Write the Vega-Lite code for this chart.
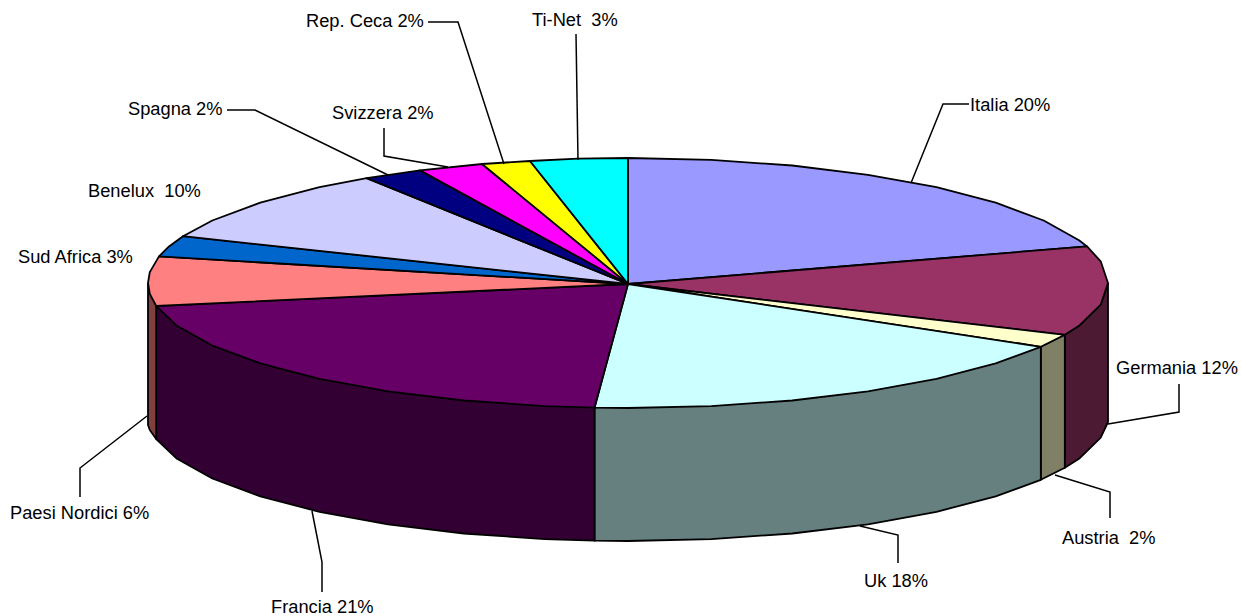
{"$schema":"https://vega.github.io/schema/vega-lite/v6.json","width":1241,"height":616,"padding":0,"autosize":"none","background":"white","config":{"view":{"stroke":null}},
"datasets":{"poly":[
{"p":"wGermania","i":1,"x":1108,"y":283},{"p":"wGermania","i":2,"x":1100.7,"y":304.7},{"p":"wGermania","i":3,"x":1079,"y":325.8},{"p":"wGermania","i":4,"x":1064.8,"y":334.8},{"p":"wGermania","i":5,"x":1064.8,"y":467.8},{"p":"wGermania","i":6,"x":1079,"y":458.8},{"p":"wGermania","i":7,"x":1100.7,"y":437.7},{"p":"wGermania","i":8,"x":1108,"y":422},{"p":"wGermania","i":9,"x":1108,"y":283},
{"p":"wAustria","i":1,"x":1064.8,"y":334.8},{"p":"wAustria","i":2,"x":1040.8,"y":346.8},{"p":"wAustria","i":3,"x":1040.8,"y":479.8},{"p":"wAustria","i":4,"x":1064.8,"y":467.8},{"p":"wAustria","i":5,"x":1064.8,"y":334.8},
{"p":"wUk","i":1,"x":1040.8,"y":346.8},{"p":"wUk","i":2,"x":594.5,"y":407.7},{"p":"wUk","i":3,"x":594.5,"y":540.7},{"p":"wUk","i":4,"x":628,"y":541},{"p":"wUk","i":5,"x":711.3,"y":539.1},{"p":"wUk","i":6,"x":792.2,"y":533.5},{"p":"wUk","i":7,"x":868,"y":524.3},{"p":"wUk","i":8,"x":936.5,"y":511.8},{"p":"wUk","i":9,"x":995.7,"y":496.4},{"p":"wUk","i":10,"x":1040.8,"y":479.8},{"p":"wUk","i":11,"x":1040.8,"y":346.8},
{"p":"wFrancia","i":1,"x":594.5,"y":407.7},{"p":"wFrancia","i":2,"x":156.2,"y":306},{"p":"wFrancia","i":3,"x":156.2,"y":439},{"p":"wFrancia","i":4,"x":177,"y":458.8},{"p":"wFrancia","i":5,"x":212.3,"y":478.5},{"p":"wFrancia","i":6,"x":260.3,"y":496.4},{"p":"wFrancia","i":7,"x":319.5,"y":511.8},{"p":"wFrancia","i":8,"x":388,"y":524.3},{"p":"wFrancia","i":9,"x":463.8,"y":533.5},{"p":"wFrancia","i":10,"x":544.7,"y":539.1},{"p":"wFrancia","i":11,"x":594.5,"y":540.7},{"p":"wFrancia","i":12,"x":594.5,"y":407.7},
{"p":"wPaesi","i":1,"x":148,"y":283},{"p":"wPaesi","i":2,"x":156.2,"y":306},{"p":"wPaesi","i":3,"x":156.2,"y":439},{"p":"wPaesi","i":4,"x":149.8,"y":430},{"p":"wPaesi","i":5,"x":148,"y":425},{"p":"wPaesi","i":6,"x":148,"y":283},
{"p":"Italia","i":1,"x":628,"y":284},{"p":"Italia","i":2,"x":628,"y":158},{"p":"Italia","i":3,"x":711.3,"y":159.9},{"p":"Italia","i":4,"x":792.2,"y":165.5},{"p":"Italia","i":5,"x":868,"y":174.8},{"p":"Italia","i":6,"x":936.5,"y":187.2},{"p":"Italia","i":7,"x":995.7,"y":202.6},{"p":"Italia","i":8,"x":1043.7,"y":220.5},{"p":"Italia","i":9,"x":1079,"y":240.3},{"p":"Italia","i":10,"x":1087,"y":246.4},{"p":"Italia","i":11,"x":628,"y":284},
{"p":"Germania","i":1,"x":628,"y":284},{"p":"Germania","i":2,"x":1087,"y":246.4},{"p":"Germania","i":3,"x":1100.7,"y":261.3},{"p":"Germania","i":4,"x":1108,"y":283},{"p":"Germania","i":5,"x":1100.7,"y":304.7},{"p":"Germania","i":6,"x":1079,"y":325.8},{"p":"Germania","i":7,"x":1064.8,"y":334.8},{"p":"Germania","i":8,"x":628,"y":284},
{"p":"Austria","i":1,"x":628,"y":284},{"p":"Austria","i":2,"x":1064.8,"y":334.8},{"p":"Austria","i":3,"x":1040.8,"y":346.8},{"p":"Austria","i":4,"x":628,"y":284},
{"p":"Uk","i":1,"x":628,"y":284},{"p":"Uk","i":2,"x":1040.8,"y":346.8},{"p":"Uk","i":3,"x":995.7,"y":363.4},{"p":"Uk","i":4,"x":936.5,"y":378.8},{"p":"Uk","i":5,"x":868,"y":391.3},{"p":"Uk","i":6,"x":792.2,"y":400.5},{"p":"Uk","i":7,"x":711.3,"y":406.1},{"p":"Uk","i":8,"x":628,"y":408},{"p":"Uk","i":9,"x":594.5,"y":407.7},{"p":"Uk","i":10,"x":628,"y":284},
{"p":"Francia","i":1,"x":628,"y":284},{"p":"Francia","i":2,"x":594.5,"y":407.7},{"p":"Francia","i":3,"x":544.7,"y":406.1},{"p":"Francia","i":4,"x":463.8,"y":400.5},{"p":"Francia","i":5,"x":388,"y":391.3},{"p":"Francia","i":6,"x":319.5,"y":378.8},{"p":"Francia","i":7,"x":260.3,"y":363.4},{"p":"Francia","i":8,"x":212.3,"y":345.5},{"p":"Francia","i":9,"x":177,"y":325.8},{"p":"Francia","i":10,"x":156.2,"y":306},{"p":"Francia","i":11,"x":628,"y":284},
{"p":"Paesi","i":1,"x":628,"y":284},{"p":"Paesi","i":2,"x":156.2,"y":306},{"p":"Paesi","i":3,"x":149.8,"y":293.9},{"p":"Paesi","i":4,"x":148,"y":283},{"p":"Paesi","i":5,"x":149.8,"y":272.1},{"p":"Paesi","i":6,"x":159,"y":256.4},{"p":"Paesi","i":7,"x":628,"y":284},
{"p":"Sud","i":1,"x":628,"y":284},{"p":"Sud","i":2,"x":159,"y":256.4},{"p":"Sud","i":3,"x":169,"y":246.4},{"p":"Sud","i":4,"x":183,"y":236.2},{"p":"Sud","i":5,"x":628,"y":284},
{"p":"Benelux","i":1,"x":628,"y":284},{"p":"Benelux","i":2,"x":183,"y":236.2},{"p":"Benelux","i":3,"x":212.3,"y":220.5},{"p":"Benelux","i":4,"x":260.3,"y":202.6},{"p":"Benelux","i":5,"x":319.5,"y":187.2},{"p":"Benelux","i":6,"x":366.6,"y":178.2},{"p":"Benelux","i":7,"x":628,"y":284},
{"p":"Spagna","i":1,"x":628,"y":284},{"p":"Spagna","i":2,"x":366.6,"y":178.2},{"p":"Spagna","i":3,"x":420,"y":170.4},{"p":"Spagna","i":4,"x":628,"y":284},
{"p":"Svizzera","i":1,"x":628,"y":284},{"p":"Svizzera","i":2,"x":420,"y":170.4},{"p":"Svizzera","i":3,"x":482,"y":164},{"p":"Svizzera","i":4,"x":628,"y":284},
{"p":"Ceca","i":1,"x":628,"y":284},{"p":"Ceca","i":2,"x":482,"y":164},{"p":"Ceca","i":3,"x":530,"y":161},{"p":"Ceca","i":4,"x":628,"y":284},
{"p":"TiNet","i":1,"x":628,"y":284},{"p":"TiNet","i":2,"x":530,"y":161},{"p":"TiNet","i":3,"x":577.8,"y":158.7},{"p":"TiNet","i":4,"x":628,"y":158},{"p":"TiNet","i":5,"x":628,"y":284}
],
"lead":[
{"l":"Italia","i":1,"x":911,"y":183},{"l":"Italia","i":2,"x":943,"y":104},{"l":"Italia","i":3,"x":969,"y":104},
{"l":"Germania","i":1,"x":1108,"y":424},{"l":"Germania","i":2,"x":1179,"y":412},{"l":"Germania","i":3,"x":1179,"y":384},
{"l":"Austria","i":1,"x":1055,"y":475},{"l":"Austria","i":2,"x":1110,"y":492},{"l":"Austria","i":3,"x":1110,"y":518},
{"l":"Uk","i":1,"x":860,"y":526},{"l":"Uk","i":2,"x":898,"y":535},{"l":"Uk","i":3,"x":898,"y":563},
{"l":"Francia","i":1,"x":312,"y":511},{"l":"Francia","i":2,"x":322,"y":562},{"l":"Francia","i":3,"x":322,"y":592},
{"l":"Paesi","i":1,"x":147,"y":416},{"l":"Paesi","i":2,"x":80,"y":468},{"l":"Paesi","i":3,"x":80,"y":497},
{"l":"Spagna","i":1,"x":227,"y":110},{"l":"Spagna","i":2,"x":255,"y":110},{"l":"Spagna","i":3,"x":388,"y":175},
{"l":"Svizzera","i":1,"x":384,"y":128},{"l":"Svizzera","i":2,"x":384,"y":156},{"l":"Svizzera","i":3,"x":448,"y":167},
{"l":"Ceca","i":1,"x":428,"y":22},{"l":"Ceca","i":2,"x":458,"y":22},{"l":"Ceca","i":3,"x":504,"y":164},
{"l":"TiNet","i":1,"x":576,"y":34},{"l":"TiNet","i":2,"x":578,"y":160}
],
"labels":[
{"t":"Italia 20%","x":970,"y":106},{"t":"Germania 12%","x":1116,"y":369},{"t":"Austria\u00a0 2%","x":1062,"y":539},{"t":"Uk 18%","x":864,"y":582},{"t":"Francia 21%","x":271,"y":608},{"t":"Paesi Nordici 6%","x":10,"y":514},{"t":"Sud Africa 3%","x":18,"y":258},{"t":"Benelux\u00a0 10%","x":88,"y":192},{"t":"Spagna 2%","x":128,"y":110},{"t":"Svizzera 2%","x":332,"y":114},{"t":"Rep. Ceca 2%","x":306,"y":22},{"t":"Ti-Net\u00a0 3%","x":532,"y":21}
]},
"layer":[
{"data":{"name":"poly"},"mark":{"type":"line","filled":true,"stroke":"black","strokeWidth":1.8,"strokeJoin":"round","interpolate":"linear"},
"encoding":{"x":{"field":"x","type":"quantitative","scale":{"domain":[0,1241],"nice":false,"zero":false},"axis":null},"y":{"field":"y","type":"quantitative","scale":{"domain":[616,0],"nice":false,"zero":false},"axis":null},"order":{"field":"i","type":"quantitative"},
"color":{"field":"p","type":"nominal","legend":null,"scale":{"domain":["wGermania","wAustria","wUk","wFrancia","wPaesi","Italia","Germania","Austria","Uk","Francia","Paesi","Sud","Benelux","Spagna","Svizzera","Ceca","TiNet"],"range":["#4D1A33","#808066","#668080","#330033","#804040","#9999FF","#993366","#FFFFCC","#CCFFFF","#660066","#FF8080","#0066CC","#CCCCFF","#000080","#FF00FF","#FFFF00","#00FFFF"]}}}},
{"data":{"name":"lead"},"mark":{"type":"line","color":"black","strokeWidth":1.5},
"encoding":{"x":{"field":"x","type":"quantitative","scale":{"domain":[0,1241],"nice":false,"zero":false},"axis":null},"y":{"field":"y","type":"quantitative","scale":{"domain":[616,0],"nice":false,"zero":false},"axis":null},"order":{"field":"i","type":"quantitative"},"detail":{"field":"l"}}},
{"data":{"name":"labels"},"mark":{"type":"text","align":"left","baseline":"middle","font":"Liberation Sans","fontSize":18.3,"fill":"black"},
"encoding":{"x":{"field":"x","type":"quantitative","scale":{"domain":[0,1241],"nice":false,"zero":false},"axis":null},"y":{"field":"y","type":"quantitative","scale":{"domain":[616,0],"nice":false,"zero":false},"axis":null},"text":{"field":"t"}}}
]}
